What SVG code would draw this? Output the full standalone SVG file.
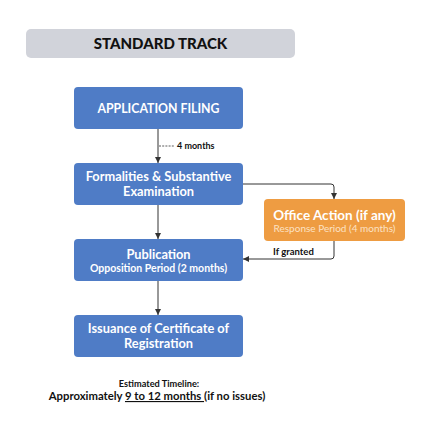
<svg xmlns="http://www.w3.org/2000/svg" width="425" height="428" viewBox="0 0 425 428">
<style>
.box{fill:#4F7CC6;}
.t{font-family:Lato,"Open Sans",sans-serif;font-weight:bold;fill:#fff;text-anchor:middle;}
.main{font-size:12.8px;}
.sub{font-size:10.5px;}
.con{fill:none;stroke:#333;stroke-width:1;}
.lbl{font-family:Lato,"Open Sans",sans-serif;font-weight:bold;font-size:9px;fill:#111;}
</style>
<defs>
<marker id="ah" viewBox="0 0 6 6" refX="6" refY="3" markerWidth="6" markerHeight="6" orient="auto" markerUnits="userSpaceOnUse">
<path d="M0,0 L6,3 L0,6 z" fill="#333"/>
</marker>
</defs>
<rect width="425" height="428" fill="#fff"/>
<g id="title">
<rect x="26" y="29" width="269" height="29" rx="5" fill="#D1D3DA"/>
<text x="160.5" y="49" font-family="Lato,'Open Sans',sans-serif" font-weight="900" font-size="15" fill="#111" text-anchor="middle">STANDARD TRACK</text>
</g>
<g id="connectors">
<line class="con" x1="158" y1="129" x2="158" y2="163" marker-end="url(#ah)"/>
<line x1="159" y1="146" x2="175" y2="146" stroke="#333" stroke-width="0.8" stroke-dasharray="2,1.2"/>
<text class="lbl" x="177" y="149">4 months</text>
<path class="con" d="M243,184 H331 Q334,184 334,187 V199" marker-end="url(#ah)"/>
<line class="con" x1="158" y1="205" x2="158" y2="239" marker-end="url(#ah)"/>
<path class="con" d="M334,241 V256 Q334,259 331,259 H243" marker-end="url(#ah)"/>
<text class="lbl" x="273" y="255" style="font-size:9.5px">If granted</text>
<line class="con" x1="158" y1="281" x2="158" y2="315" marker-end="url(#ah)"/>
</g>
<g id="filing">
<rect class="box" x="74" y="87" width="169" height="42" rx="4"/>
<text class="t" x="158.5" y="112.5" font-size="12.3">APPLICATION FILING</text>
</g>
<g id="formalities">
<rect class="box" x="74" y="163" width="169" height="42" rx="4"/>
<text class="t main" x="158.5" y="180.5">Formalities &amp; Substantive</text>
<text class="t main" x="158.5" y="196">Examination</text>
</g>
<g id="office">
<rect x="264" y="199" width="141" height="42" rx="4" fill="#EE9C42"/>
<text class="t" x="334.5" y="219.5" font-size="13.5">Office Action (if any)</text>
<text class="t" x="334.5" y="231.5" font-size="10" style="font-weight:normal;fill:#FCE2C4">Response Period (4 months)</text>
</g>
<g id="publication">
<rect class="box" x="74" y="239" width="169" height="42" rx="4"/>
<text class="t main" x="158.5" y="258.5">Publication</text>
<text class="t sub" x="158.5" y="271.5">Opposition Period (2 months)</text>
</g>
<g id="issuance">
<rect class="box" x="74" y="315" width="169" height="42" rx="4"/>
<text class="t main" x="158.5" y="332.5">Issuance of Certificate of</text>
<text class="t main" x="158.5" y="348">Registration</text>
</g>
<g id="timeline">
<text x="159" y="387" font-family="Lato,'Open Sans',sans-serif" font-weight="bold" font-size="9.2" fill="#111" text-anchor="middle">Estimated Timeline:</text>
<text x="157" y="400" font-family="Lato,'Open Sans',sans-serif" font-weight="bold" font-size="11.3" fill="#111" text-anchor="middle">Approximately <tspan text-decoration="underline">9 to 12 months </tspan>(if no issues)</text>
</g>
</svg>
